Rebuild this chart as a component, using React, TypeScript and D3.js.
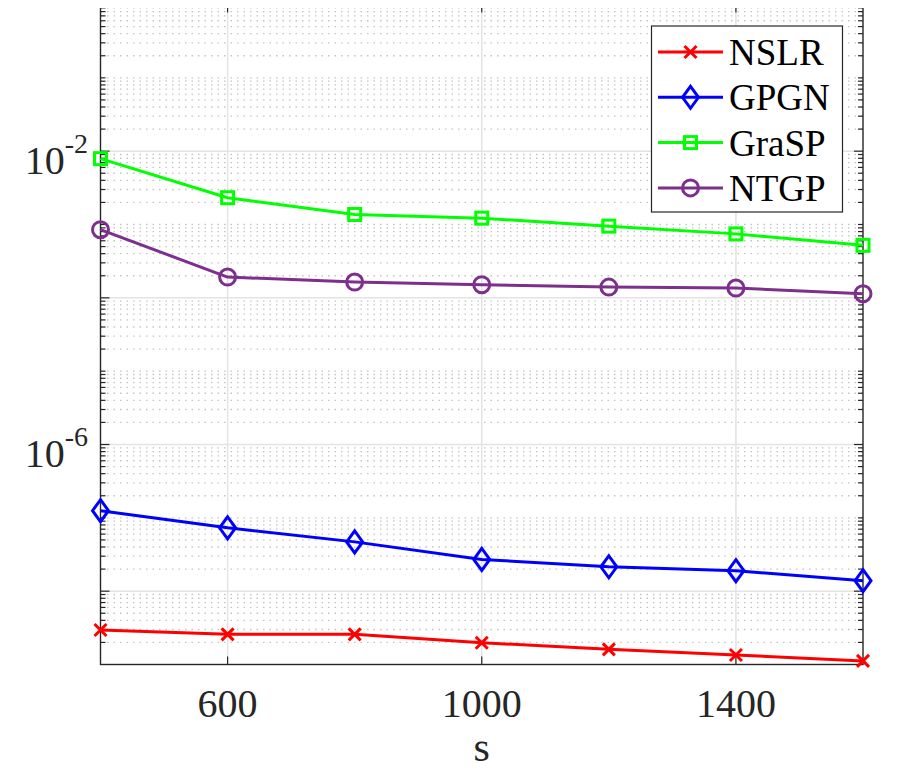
import * as d3 from 'd3'

// sample sizes on the x axis
const sValues = [400, 600, 800, 1000, 1200, 1400, 1600]

// relative error per method
const nslr = [2.95e-9, 2.58e-9, 2.58e-9, 1.98e-9, 1.61e-9, 1.35e-9, 1.12e-9]
const gpgn = [1.25e-7, 7.3e-8, 4.7e-8, 2.71e-8, 2.15e-8, 1.9e-8, 1.39e-8]
const grasp = [7.9e-3, 2.32e-3, 1.37e-3, 1.22e-3, 9.5e-4, 7.45e-4, 5.2e-4]
const ntgp = [8.5e-4, 1.92e-4, 1.64e-4, 1.51e-4, 1.4e-4, 1.36e-4, 1.14e-4]

const seriesNames = ['NSLR', 'GPGN', 'GraSP', 'NTGP']
const seriesValues = [nslr, gpgn, grasp, ntgp]
const seriesColors = ['#ff0000', '#0000ff', '#00ff00', '#7e2f8e']
const seriesMarkers = ['cross', 'diamond', 'square', 'circle']

const xTicks = [600, 1000, 1400]
const yMajor = [1e-8, 1e-6, 1e-4, 1e-2]
const yLabelled = [-6, -2]

const W = 909
const H = 769
const left = 100.5
const right = 863
const top = 4.5
const bottom = 664.5
const axisColor = '#262626'
const font = 'Liberation Serif'

function Marker({ type, color, cx, cy }: { type: string; color: string; cx: number; cy: number }) {
  if (type === 'cross') {
    const r = 6
    return (
      <path
        d={`M${cx - r},${cy - r}L${cx + r},${cy + r}M${cx - r},${cy + r}L${cx + r},${cy - r}`}
        stroke={color}
        strokeWidth={3}
      />
    )
  }
  if (type === 'diamond') {
    return (
      <path
        d={`M${cx},${cy - 11}L${cx + 8},${cy}L${cx},${cy + 11}L${cx - 8},${cy}Z`}
        fill="none"
        stroke={color}
        strokeWidth={3}
      />
    )
  }
  if (type === 'square') {
    return <rect x={cx - 6} y={cy - 6} width={12} height={12} fill="none" stroke={color} strokeWidth={3} />
  }
  return <circle cx={cx} cy={cy} r={8} fill="none" stroke={color} strokeWidth={3} />
}

export default function App() {
  const x = d3.scaleLinear().domain([400, 1600]).range([left, right])
  const y = d3.scaleLog().domain([1e-9, 1]).range([bottom, top])

  // minor values: 2..9 x 10^k and the odd decades
  const minor: number[] = []
  for (let k = -9; k < 0; k++) {
    for (let m = 2; m <= 9; m++) minor.push(m * Math.pow(10, k))
    if (k % 2 !== 0 && k > -9) minor.push(Math.pow(10, k))
  }
  const yTickMarks = [...minor.map((v) => ({ v, len: 5 })), ...yMajor.map((v) => ({ v, len: 9 }))]

  const line = d3
    .line<number>()
    .x((_, i) => x(sValues[i]))
    .y((d) => y(d))

  return (
    <div style={{ margin: -8 }}>
      <svg width={W} height={H}>
        {/* minor grid */}
        {minor.map((d, i) => (
          <line
            key={`mg${i}`}
            x1={left}
            x2={right}
            y1={y(d)}
            y2={y(d)}
            stroke="#c4c4c4"
            strokeWidth={1.3}
            strokeDasharray="1.5,5"
          />
        ))}
        {/* major grid */}
        {yMajor.map((d, i) => (
          <line key={`Mg${i}`} x1={left} x2={right} y1={y(d)} y2={y(d)} stroke="#e3e3e3" strokeWidth={1.5} />
        ))}
        {xTicks.map((d) => (
          <line key={`xg${d}`} x1={x(d)} x2={x(d)} y1={top} y2={bottom} stroke="#e3e3e3" strokeWidth={1.5} />
        ))}

        {/* y ticks both sides */}
        {[
          { x0: left, dir: 1 },
          { x0: right, dir: -1 },
        ].map(({ x0, dir }) =>
          yTickMarks.map((d, i) => (
            <line
              key={`yt${x0}-${i}`}
              x1={x0}
              x2={x0 + dir * d.len}
              y1={y(d.v)}
              y2={y(d.v)}
              stroke={axisColor}
              strokeWidth={1.2}
            />
          ))
        )}
        {/* x ticks top and bottom */}
        {[
          { y0: bottom, dir: -1 },
          { y0: top, dir: 1 },
        ].map(({ y0, dir }) =>
          xTicks.map((d) => (
            <line
              key={`xt${y0}-${d}`}
              x1={x(d)}
              x2={x(d)}
              y1={y0}
              y2={y0 + dir * 8}
              stroke={axisColor}
              strokeWidth={1.2}
            />
          ))
        )}

        <rect
          x={left}
          y={top}
          width={right - left}
          height={bottom - top}
          fill="none"
          stroke={axisColor}
          strokeWidth={1.4}
        />

        {xTicks.map((d) => (
          <text
            key={`xl${d}`}
            x={x(d)}
            y={717}
            textAnchor="middle"
            fill={axisColor}
            fontSize={40}
            fontFamily={font}
          >
            {d}
          </text>
        ))}
        {yLabelled.map((d) => (
          <text
            key={`yl${d}`}
            x={88}
            y={y(Math.pow(10, d)) + 22.5}
            textAnchor="end"
            fill={axisColor}
            fontSize={40}
            fontFamily={font}
          >
            <tspan>10</tspan>
            <tspan dy={-21} fontSize={28}>
              {d}
            </tspan>
          </text>
        ))}
        <text x={x(1000)} y={761} textAnchor="middle" fill={axisColor} fontSize={42} fontFamily={font}>
          s
        </text>

        {/* series */}
        {seriesValues.map((vals, si) => (
          <g key={seriesNames[si]}>
            <path
              d={line(vals) ?? ''}
              fill="none"
              stroke={seriesColors[si]}
              strokeWidth={3}
              strokeLinejoin="round"
            />
            {vals.map((v, i) => (
              <Marker key={i} type={seriesMarkers[si]} color={seriesColors[si]} cx={x(sValues[i])} cy={y(v)} />
            ))}
          </g>
        ))}

        {/* legend */}
        <rect x={651.5} y={26} width={191} height={186} fill="#ffffff" stroke={axisColor} strokeWidth={1.2} />
        {seriesNames.map((name, i) => {
          const cy = 52 + i * 45.3
          return (
            <g key={`lg${name}`}>
              <line x1={658} x2={723} y1={cy} y2={cy} stroke={seriesColors[i]} strokeWidth={3} />
              <Marker type={seriesMarkers[i]} color={seriesColors[i]} cx={690.5} cy={cy} />
              <text x={729} y={cy + 13} fill="#000000" fontSize={37} fontFamily={font}>
                {name}
              </text>
            </g>
          )
        })}
      </svg>
    </div>
  )
}
